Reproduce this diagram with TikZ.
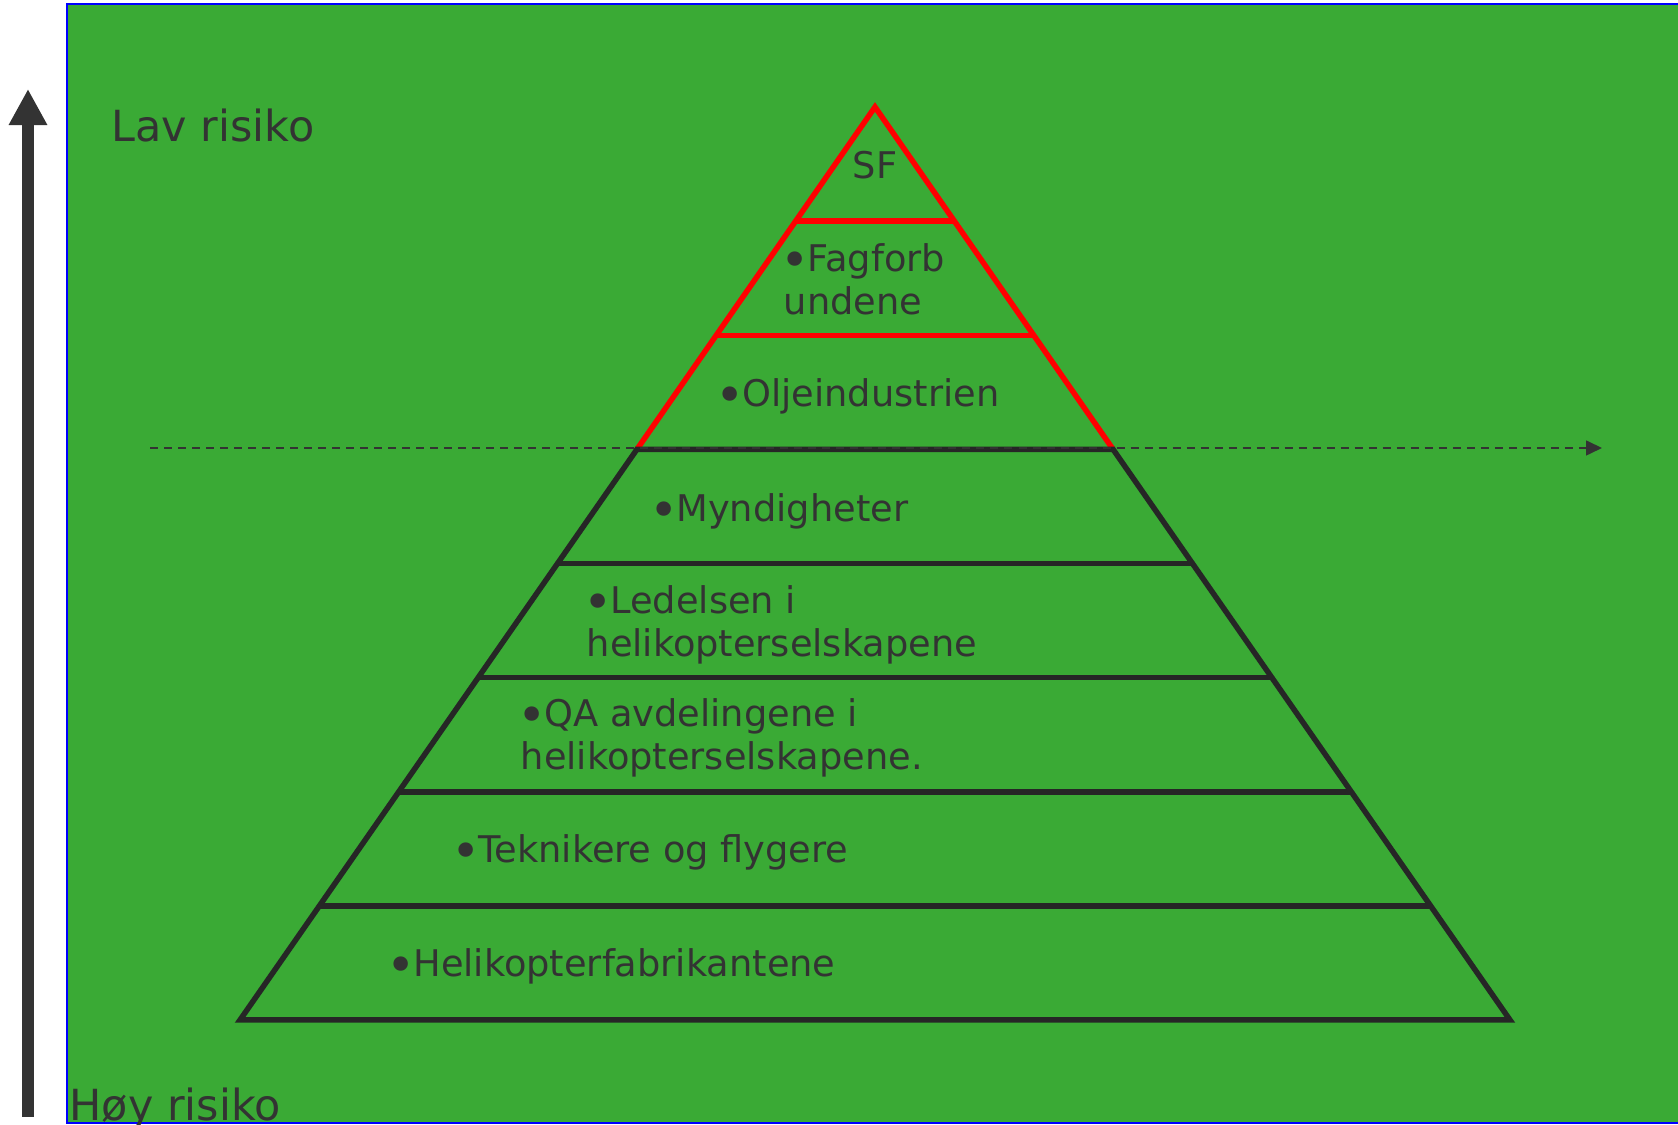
\documentclass[tikz,border=0pt]{standalone}
\usepackage{fontspec}
\setmainfont{DejaVu Sans}
\usepackage{tikz}
\usetikzlibrary{arrows.meta,positioning}
\definecolor{bggreen}{HTML}{3AAA35}
\definecolor{txtgray}{HTML}{333333}
\definecolor{linegray}{HTML}{262626}

% larger bullet, set tight to the text
\newcommand{\lbul}{\kern-0.09em\raisebox{-0.16em}{\scalebox{1.35}{•}}\kern-0.06em}

\tikzset{
    layertext/.style={anchor=base west,inner sep=0pt,align=left,text=txtgray,font=\fontsize{10.45}{12.4}\selectfont},
    risktext/.style={anchor=base west,inner sep=0pt,text=txtgray,font=\fontsize{12.2}{14}\selectfont},
    redline/.style={red,line width=0.055cm,line join=miter},
    darkline/.style={linegray,line width=0.055cm,line join=miter},
}

\begin{document}
\begin{tikzpicture}[x=0.01cm,y=-0.01cm]
    \useasboundingbox (0,0) rectangle (1678,1125);

    % Background
    \filldraw[fill=bggreen,draw=blue,line width=0.65pt] (67,4) rectangle (1720,1123);

    % Pyramid corners
    \coordinate (apex) at (875,107);
    \coordinate (l1) at (795.6,221.1);  \coordinate (r1) at (954.4,221.1);
    \coordinate (l2) at (716.3,335.3);  \coordinate (r2) at (1033.7,335.3);
    \coordinate (l3) at (636.9,449.4);  \coordinate (r3) at (1113.1,449.4);
    \coordinate (l4) at (557.5,563.5);  \coordinate (r4) at (1192.5,563.5);
    \coordinate (l5) at (478.1,677.6);  \coordinate (r5) at (1271.9,677.6);
    \coordinate (l6) at (398.8,791.8);  \coordinate (r6) at (1351.2,791.8);
    \coordinate (l7) at (319.4,905.9);  \coordinate (r7) at (1430.6,905.9);
    \coordinate (l8) at (240,1020);     \coordinate (r8) at (1510,1020);

    % Top part (red)
    \draw[redline] (l3) -- (apex) -- (r3);
    \draw[redline] (l1) -- (r1);
    \draw[redline] (l2) -- (r2);

    % Lower part
    \draw[darkline] (l3) -- (r3) -- (r8) -- (l8) -- cycle;
    \draw[darkline] (l4) -- (r4);
    \draw[darkline] (l5) -- (r5);
    \draw[darkline] (l6) -- (r6);
    \draw[darkline] (l7) -- (r7);

    % Dashed limit
    \coordinate (dstart) at (150,448);
    \coordinate (dend) at (1602,448);
    \draw[txtgray,line width=0.016cm,dash pattern=on 0.08cm off 0.06cm,-{Triangle[length=0.16cm,width=0.15cm]}] (dstart) -- (dend);

    % Risk arrow
    \coordinate (high) at (28,1117);
    \coordinate (low) at (28,89);
    \draw[txtgray,line width=0.12cm,-{Triangle[length=0.36cm,width=0.36cm]}] (high) -- (low);
    \node[risktext] (lav) at (111,142) {Lav risiko};
    \node[risktext] (hoy) at (69,1120) {Høy risiko};

    % Layer labels (two-line ones sit on their last baseline)
    \node[layertext,anchor=base] (sf) at (875,179) {SF};
    \node[layertext] (fag) at (783,315) {\lbul Fagforb\\undene};
    \node[layertext] (olje) at (718,407) {\lbul Oljeindustrien};
    \node[layertext] (mynd) at (652,522) {\lbul Myndigheter};
    \node[layertext] (led) at (586,657) {\lbul Ledelsen i\\helikopterselskapene};
    \node[layertext] (qa) at (520,770) {\lbul QA avdelingene i\\helikopterselskapene.};
    \node[layertext] (tek) at (454,863) {\lbul Teknikere og flygere};
    \node[layertext] (heli) at (389,977) {\lbul Helikopterfabrikantene};
\end{tikzpicture}
\end{document}
